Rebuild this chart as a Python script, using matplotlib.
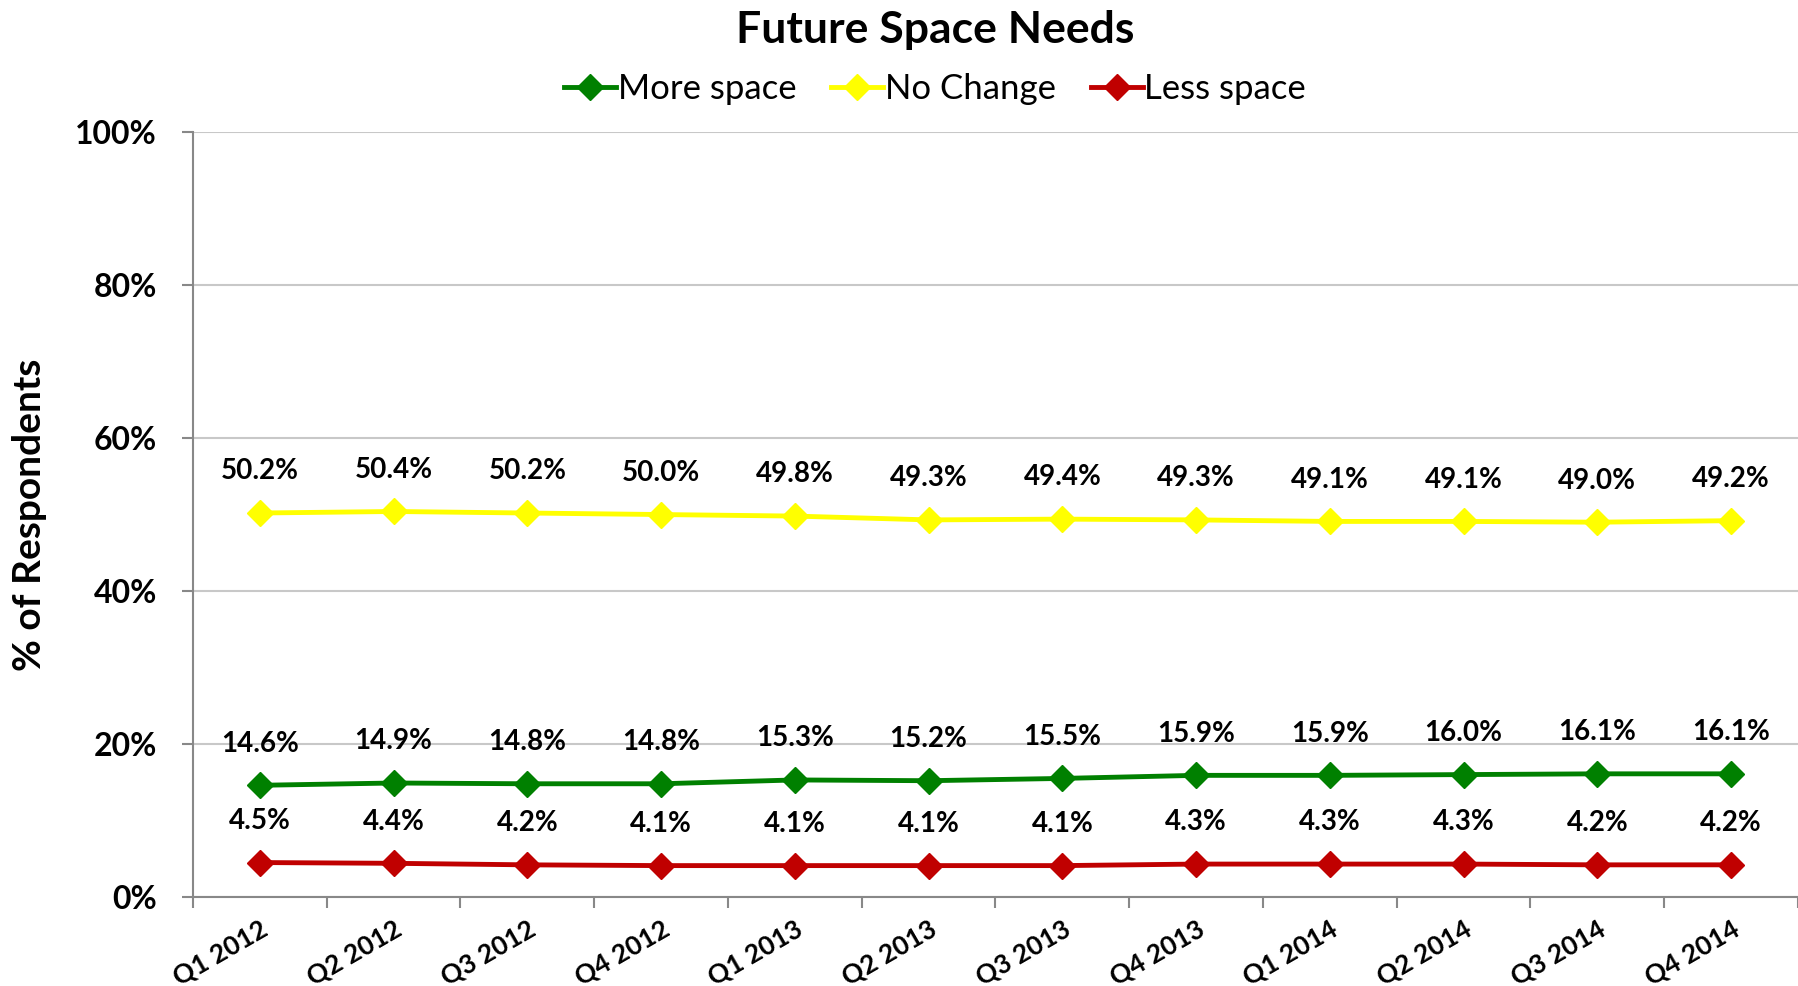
import matplotlib.pyplot as plt
from matplotlib.ticker import FixedLocator, PercentFormatter

plt.rcParams['font.family'] = ['Lato', 'DejaVu Sans']

quarters = ["Q1 2012", "Q2 2012", "Q3 2012", "Q4 2012",
            "Q1 2013", "Q2 2013", "Q3 2013", "Q4 2013",
            "Q1 2014", "Q2 2014", "Q3 2014", "Q4 2014"]
more_space = [14.6, 14.9, 14.8, 14.8, 15.3, 15.2, 15.5, 15.9, 15.9, 16.0, 16.1, 16.1]
no_change = [50.2, 50.4, 50.2, 50.0, 49.8, 49.3, 49.4, 49.3, 49.1, 49.1, 49.0, 49.2]
less_space = [4.5, 4.4, 4.2, 4.1, 4.1, 4.1, 4.1, 4.3, 4.3, 4.3, 4.2, 4.2]

series = [("More space", more_space, "#008000"),
          ("No Change", no_change, "#FFFF00"),
          ("Less space", less_space, "#C00000")]

fig = plt.figure(figsize=(17.98, 9.86), dpi=100)
ax = fig.add_axes([0.1073, 0.0903, 0.8927, 0.7757])

x = list(range(len(quarters)))
for name, vals, col in series:
    ax.plot(x, vals, color=col, lw=3.5, marker="D", markersize=13,
            label=name, zorder=3)
    for xi, v in zip(x, vals):
        ax.annotate(f"{v:.1f}%", (xi, v), xytext=(0, 30), textcoords="offset points",
                    ha="center", va="center", fontsize=20, fontweight="bold")

ax.set_xlim(-0.5, len(quarters) - 0.5)
ax.set_ylim(0, 100)
ax.set_yticks([0, 20, 40, 60, 80, 100])
ax.yaxis.set_major_formatter(PercentFormatter(decimals=0))
ax.tick_params(axis="y", labelsize=23, length=8, width=1.5, color="#888888", pad=18)
for lab in ax.get_yticklabels():
    lab.set_fontweight("bold")

ax.xaxis.set_major_locator(FixedLocator([i - 0.5 for i in range(len(quarters) + 1)]))
ax.xaxis.set_major_formatter(plt.NullFormatter())
ax.xaxis.set_minor_locator(FixedLocator(x))
ax.set_xticklabels(quarters, minor=True)
ax.tick_params(axis="x", which="major", length=8, width=1.5, color="#888888")
ax.tick_params(axis="x", which="minor", length=0, labelsize=19, pad=14)
for lab in ax.get_xticklabels(minor=True):
    lab.set_fontweight("bold")
    lab.set_rotation(30)
    lab.set_ha("right")
    lab.set_rotation_mode("anchor")

ax.grid(axis="y", color="#C8C8C8", lw=1.5)
ax.set_axisbelow(True)
for s in ["top", "right"]:
    ax.spines[s].set_visible(False)
for s in ["left", "bottom"]:
    ax.spines[s].set_color("#888888")
    ax.spines[s].set_linewidth(1.5)

ax.set_ylabel("% of Respondents", fontsize=28, fontweight="bold", labelpad=20)

fig.suptitle("Future Space Needs", x=0.52, y=0.99, fontsize=32, fontweight="bold")
fig.legend(loc="center", bbox_to_anchor=(0.52, 0.91), ncol=3, frameon=False,
           fontsize=25, handlelength=1.5, handletextpad=0.05, columnspacing=1.0,
           markerscale=1.0)

fig.savefig("out.png", dpi=100)
